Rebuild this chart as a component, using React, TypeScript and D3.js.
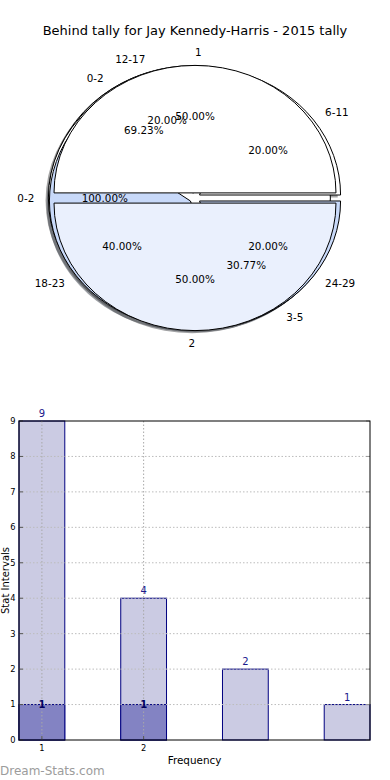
import { useRef, useEffect } from "react";
import * as d3 from "d3";

const TITLE = "Behind tally for Jay Kennedy-Harris - 2015 tally";

// pie layers, drawn bottom to top
const pieLabelsD = ["0-2", "3-5"];
const pieValuesD = [9, 4];
const pieColorsD = ["#ffffff", "#c8d9f9"];

const pieLabelsB = ["0-2"];
const pieValuesB = [1];
const pieColorsB = ["#ffffff"];

const pieLabelsC = ["6-11", "12-17", "18-23", "24-29"];
const pieValuesC = [1, 1, 2, 1];
const pieColorsC = ["#ffffff", "#ffffff", "#c8d9f9", "#c8d9f9"];

const pieLabelsA = ["1", "2"];
const pieValuesA = [1, 1];
const pieColorsA = ["#ffffff", "#eaf0fd"];

// bar chart
const barX = [1, 2, 3, 4];
const barTotals = [9, 4, 2, 1];
const subX = [1, 2];
const subValues = [1, 1];
const xTicks = [1, 2];
const yTicks = [0, 1, 2, 3, 4, 5, 6, 7, 8, 9];

const W = 390;
const H = 780;
const PIE = { cx: 195, cy: 198, rx: 141, ry: 127.5 };
const EXPLODE = 0.04;
const BAR = { left: 19, right: 370, top: 421, bottom: 740 };
const FONT = "DejaVu Sans, sans-serif";

export default function App() {
  const svgRef = useRef(null);

  useEffect(() => {
    const svg = d3.select(svgRef.current);
    svg.selectAll("*").remove();

    svg.append("rect").attr("width", W).attr("height", H).attr("fill", "#fff");

    svg.append("text")
      .attr("x", W / 2).attr("y", 35)
      .attr("text-anchor", "middle")
      .style("font-family", FONT).style("font-size", "13px")
      .text(TITLE);

    // ---- pie ----
    const layers = [
      { labels: pieLabelsD, values: pieValuesD, colors: pieColorsD },
      { labels: pieLabelsB, values: pieValuesB, colors: pieColorsB },
      { labels: pieLabelsC, values: pieValuesC, colors: pieColorsC },
      { labels: pieLabelsA, values: pieValuesA, colors: pieColorsA },
    ];

    const pie = d3.pie<number>().sort(null)
      .startAngle(Math.PI / 2)
      .endAngle(Math.PI / 2 - 2 * Math.PI);
    const arc = d3.arc<any>().innerRadius(0).outerRadius(1);
    const fmt = d3.format(".2f");

    const arcsAll = layers.map((L) => {
      const total = d3.sum(L.values);
      return pie(L.values).map((a, i) => {
        const mid = (a.startAngle + a.endAngle) / 2;
        const ux = Math.sin(mid);
        const uy = -Math.cos(mid);
        return {
          a, label: L.labels[i], color: L.colors[i % L.colors.length],
          pct: fmt((L.values[i] / total) * 100) + "%",
          ux, uy,
          ox: PIE.cx + EXPLODE * PIE.rx * ux,
          oy: PIE.cy + EXPLODE * PIE.ry * uy,
        };
      });
    });

    const pieG = svg.append("g");
    // shadows under every wedge
    arcsAll.flat().forEach((d) => {
      const c = d3.rgb(d.color);
      pieG.append("path")
        .attr("d", arc(d.a))
        .attr("transform", `translate(${d.ox - 0.02 * PIE.rx},${d.oy + 0.02 * PIE.ry}) scale(${PIE.rx},${PIE.ry})`)
        .attr("fill", d3.rgb(c.r * 0.3, c.g * 0.3, c.b * 0.3).toString())
        .attr("opacity", 0.5);
    });
    arcsAll.flat().forEach((d) => {
      pieG.append("path")
        .attr("d", arc(d.a))
        .attr("transform", `translate(${d.ox},${d.oy}) scale(${PIE.rx},${PIE.ry})`)
        .attr("fill", d.color)
        .attr("stroke", "#000")
        .attr("stroke-width", 1)
        .attr("vector-effect", "non-scaling-stroke");
    });
    arcsAll.flat().forEach((d) => {
      const lx = d.ox + 1.1 * PIE.rx * d.ux;
      const ly = d.oy + 1.1 * PIE.ry * d.uy;
      pieG.append("text")
        .attr("x", lx).attr("y", ly)
        .attr("dy", "0.35em")
        .attr("text-anchor", d.ux >= 0 ? "start" : "end")
        .style("font-family", FONT).style("font-size", "10.4px")
        .text(d.label);
      pieG.append("text")
        .attr("x", d.ox + 0.6 * PIE.rx * d.ux)
        .attr("y", d.oy + 0.6 * PIE.ry * d.uy)
        .attr("dy", "0.35em")
        .attr("text-anchor", "middle")
        .style("font-family", FONT).style("font-size", "10.4px")
        .text(d.pct);
    });

    // ---- bars ----
    const x = d3.scaleLinear().domain([0.775, 4.225]).range([BAR.left, BAR.right]);
    const y = d3.scaleLinear().domain([0, 9]).range([BAR.bottom, BAR.top]);
    const bw = x(0.45) - x(0);
    const g = svg.append("g");

    g.selectAll(".bar").data(barX).join("rect")
      .attr("x", (d) => x(d) - bw / 2)
      .attr("y", (_, i) => y(barTotals[i]))
      .attr("width", bw)
      .attr("height", (_, i) => y(0) - y(barTotals[i]))
      .attr("fill", "#cbcbe3")
      .attr("stroke", "#000080").attr("stroke-width", 1);

    g.selectAll(".sub").data(subX).join("rect")
      .attr("x", (d) => x(d) - bw / 2)
      .attr("y", (_, i) => y(subValues[i]))
      .attr("width", bw)
      .attr("height", (_, i) => y(0) - y(subValues[i]))
      .attr("fill", "#8383c3")
      .attr("stroke", "#000080").attr("stroke-width", 1);

    // grid on top
    g.selectAll(".hg").data(yTicks.slice(1, -1)).join("line")
      .attr("x1", BAR.left).attr("x2", BAR.right)
      .attr("y1", (d) => y(d)).attr("y2", (d) => y(d))
      .attr("stroke", "#bcbcbc").attr("stroke-dasharray", "1.5,2");
    g.selectAll(".vg").data(xTicks).join("line")
      .attr("x1", (d) => x(d)).attr("x2", (d) => x(d))
      .attr("y1", BAR.top).attr("y2", BAR.bottom)
      .attr("stroke", "#a8a8a8").attr("stroke-dasharray", "1.5,2");

    // ticks
    yTicks.forEach((t) => {
      g.append("line").attr("x1", BAR.left).attr("x2", BAR.left + 4)
        .attr("y1", y(t)).attr("y2", y(t)).attr("stroke", "#555");
      g.append("line").attr("x1", BAR.right - 4).attr("x2", BAR.right)
        .attr("y1", y(t)).attr("y2", y(t)).attr("stroke", "#999");
      g.append("text").attr("x", 15.5).attr("y", y(t)).attr("dy", "0.35em")
        .attr("text-anchor", "end")
        .style("font-family", FONT).style("font-size", "8.3px")
        .text(t);
    });
    xTicks.forEach((t) => {
      g.append("line").attr("x1", x(t)).attr("x2", x(t))
        .attr("y1", BAR.bottom).attr("y2", BAR.bottom - 4).attr("stroke", "#555");
      g.append("text").attr("x", x(t)).attr("y", BAR.bottom + 11)
        .attr("text-anchor", "middle")
        .style("font-family", FONT).style("font-size", "8.3px")
        .text(t);
    });

    g.append("rect")
      .attr("x", BAR.left).attr("y", BAR.top)
      .attr("width", BAR.right - BAR.left).attr("height", BAR.bottom - BAR.top)
      .attr("fill", "none").attr("stroke", "#000").attr("stroke-width", 1);

    // value labels
    barX.forEach((d, i) => {
      g.append("text").attr("x", x(d)).attr("y", y(barTotals[i]) - 4)
        .attr("text-anchor", "middle")
        .style("font-family", FONT).style("font-size", "10px")
        .attr("fill", "#1a1a8c")
        .text(barTotals[i]);
    });
    subX.forEach((d, i) => {
      g.append("text").attr("x", x(d)).attr("y", y(subValues[i]) + 3)
        .attr("text-anchor", "middle")
        .style("font-family", FONT).style("font-size", "10px")
        .style("font-weight", "bold")
        .attr("fill", "#000060")
        .text(subValues[i]);
    });

    g.append("text").attr("x", (BAR.left + BAR.right) / 2).attr("y", 764)
      .attr("text-anchor", "middle")
      .style("font-family", FONT).style("font-size", "10.4px")
      .text("Frequency");
    g.append("text")
      .attr("transform", `translate(8.5,${(BAR.top + BAR.bottom) / 2}) rotate(-90)`)
      .attr("text-anchor", "middle")
      .style("font-family", FONT).style("font-size", "10px")
      .text("Stat Intervals");

    svg.append("text").attr("x", 0).attr("y", 775)
      .style("font-family", FONT).style("font-size", "12px")
      .attr("fill", "#9c9c9c")
      .text("Dream-Stats.com");
  }, []);

  return (
    <svg ref={svgRef} width={W} height={H}
      style={{ position: "absolute", left: 0, top: 0, display: "block" }} />
  );
}
